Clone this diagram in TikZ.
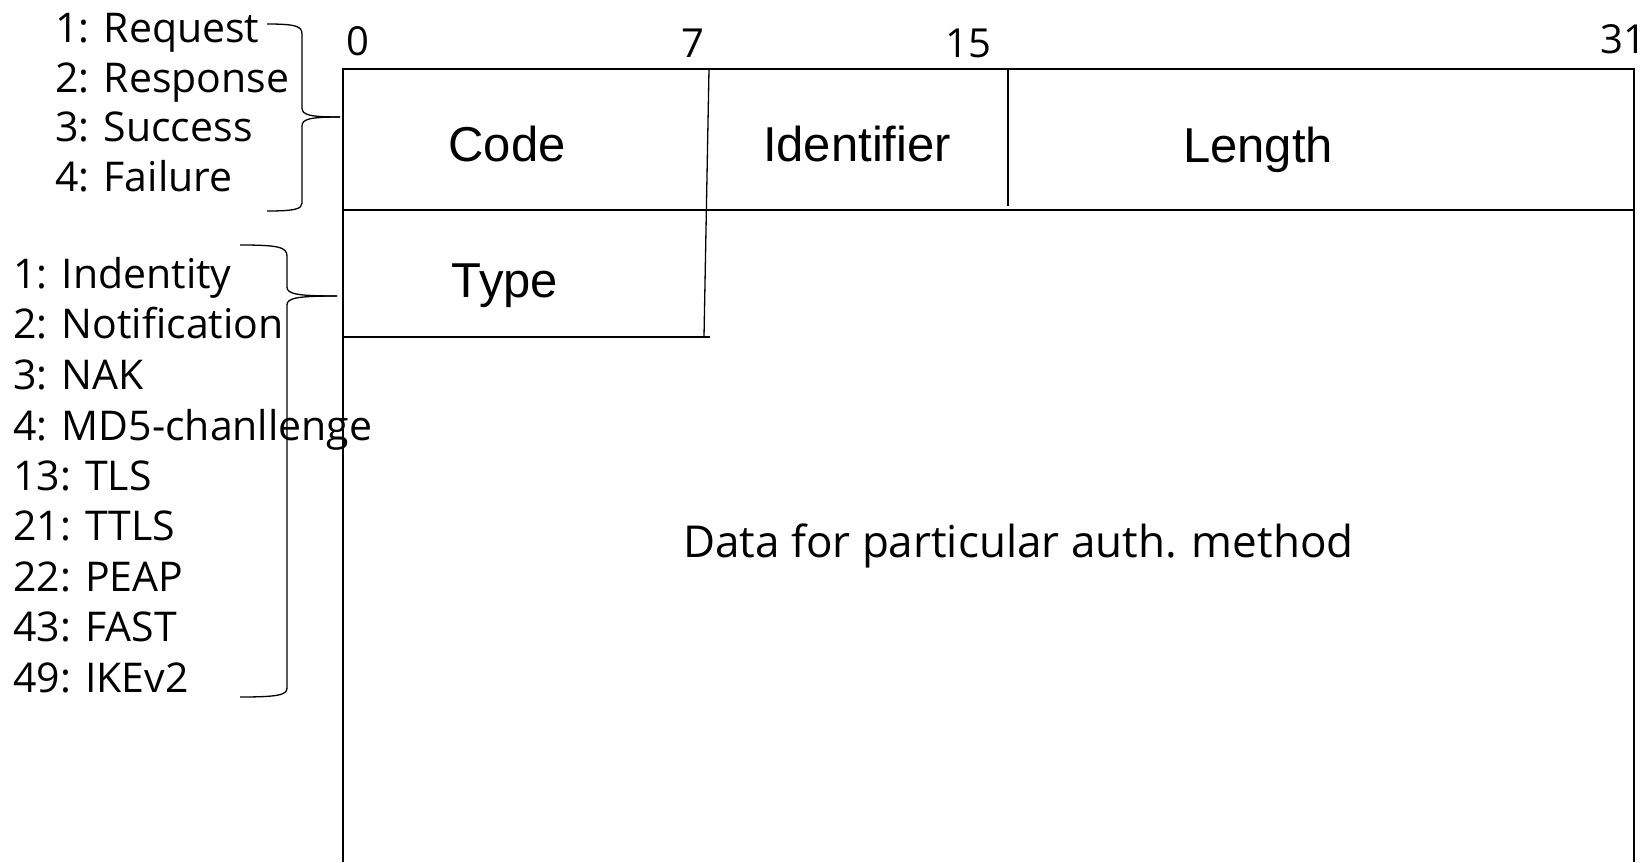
\documentclass[tikz,border=0pt]{standalone}
\usepackage{fontspec}
\setmainfont{Open Sans}
\newfontfamily\arialf{Liberation Sans}
\begin{document}
\begin{tikzpicture}[x=1pt,y=-1pt,
  lbl/.style={inner sep=0pt,anchor=base west,font=\fontsize{41}{41}\selectfont},
  num/.style={inner sep=0pt,anchor=base,font=\fontsize{40}{40}\selectfont},
  field/.style={inner sep=0pt,anchor=base,font=\arialf\fontsize{49}{49}\selectfont},
  boxline/.style={line width=2pt},
  thinline/.style={line width=1.3pt},
  bracel/.style={line width=1.3pt}]
\useasboundingbox (0,0) rectangle (1649,862);
% frame
\coordinate (tl) at (343,69);
\coordinate (tr) at (1634,69);
\coordinate (bl) at (343,862);
\coordinate (br) at (1634,862);
\coordinate (ml) at (343,210);
\coordinate (mr) at (1634,210);
\draw[boxline] (bl) -- (tl) -- (tr) -- (br);
\draw[boxline] (ml) -- (mr);
\coordinate (s7t) at (709,69);
\coordinate (s7b) at (704,337);
\draw[thinline] (s7t) -- (s7b);
\coordinate (tyl) at (343,337);
\coordinate (tyr) at (710,337);
\draw[boxline] (tyl) -- (tyr);
\coordinate (s15t) at (1008,69);
\coordinate (s15b) at (1008,206);
\draw[boxline] (s15t) -- (s15b);
% bit numbers
\node[num] (b0) at (358,55) {0};
\node[num] (b7) at (693,57) {7};
\node[num] (b15) at (968,57) {15};
\node[num] (b31) at (1623,53) {31};
% fields
\node[field] (code) at (507,161) {Code};
\node[field] (ident) at (857,161) {Identifier};
\node[field] (len) at (1258,162) {Length};
\node[field] (type) at (505,297) {Type};
\node[inner sep=0pt,anchor=base west,font=\fontsize{44}{44}\selectfont] (data) at (683,557) {Data for particular auth. method};
% code list
\node[lbl] (c1) at (55,42) {1: Request};
\node[lbl] (c2) at (55,92) {2: Response};
\node[lbl] (c3) at (55,141) {3: Success};
\node[lbl] (c4) at (55,191) {4: Failure};
% type list
\node[lbl] (t1) at (13,288) {1: Indentity};
\node[lbl] (t2) at (13,338) {2: Notification};
\node[lbl] (t3) at (13,389) {3: NAK};
\node[lbl] (t4) at (13,440) {4: MD5-chanllenge};
\node[lbl] (t5) at (13,490) {13: TLS};
\node[lbl] (t6) at (13,540) {21: TTLS};
\node[lbl] (t7) at (13,591) {22: PEAP};
\node[lbl] (t8) at (13,641) {43: FAST};
\node[lbl] (t9) at (13,692) {49: IKEv2};
% braces
\coordinate (ba1) at (267,24);
\coordinate (bt1) at (340,117);
\coordinate (bz1) at (267,211);
\draw[bracel] (ba1) .. controls (295,24) and (302,26) .. (302,34) -- (302,108)
  .. controls (302,115) and (310,117) .. (bt1);
\draw[bracel] (bt1) .. controls (310,117) and (302,119) .. (302,126) -- (302,203)
  .. controls (302,209) and (295,211) .. (bz1);
\coordinate (ba2) at (240,245);
\coordinate (bt2) at (337,296);
\coordinate (bz2) at (240,697);
\draw[bracel] (ba2) .. controls (278,245) and (287,247) .. (287,256) -- (287,287)
  .. controls (287,294) and (297,296) .. (bt2);
\draw[bracel] (bt2) .. controls (297,296) and (287,298) .. (287,305) -- (287,688)
  .. controls (287,695) and (278,697) .. (bz2);
\end{tikzpicture}
\end{document}
